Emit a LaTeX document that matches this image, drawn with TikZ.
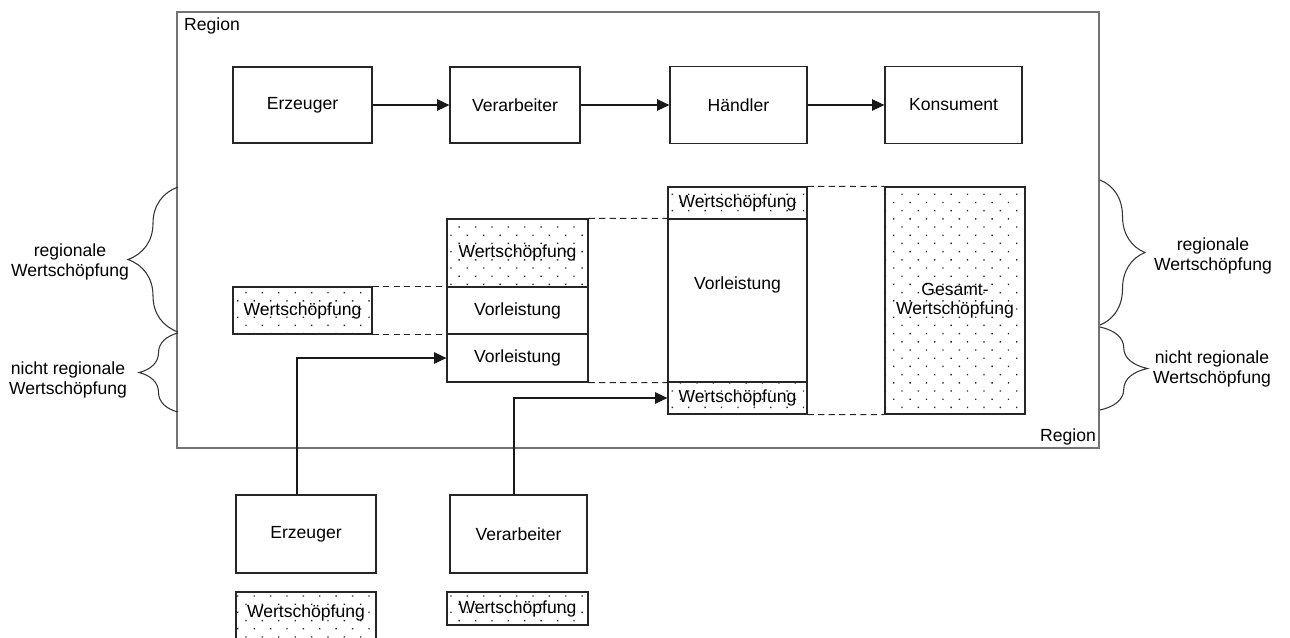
\documentclass[tikz,border=0pt]{standalone}
\usepackage{fontspec}
\setmainfont{Liberation Sans}
\usetikzlibrary{arrows.meta,patterns.meta,decorations.pathreplacing}
\begin{document}
\begin{tikzpicture}[x=0.02cm,y=-0.02cm,
  font=\fontsize{10}{11}\selectfont,
  frame/.style={draw=black!55,line width=1pt,inner sep=0pt},
  box/.style={draw=black!85,line width=0.7pt,inner sep=0pt,align=center},
  wert/.style={box,pattern={Dots[distance=6.6pt,angle=45,radius=0.55pt]},pattern color=black!85},
  arr/.style={-{Triangle[length=7pt,width=6.5pt]},line width=0.6pt,draw=black!90},
  verbind/.style={dashed,dash pattern=on 3.5pt off 2.5pt,line width=0.6pt,draw=black!85},
  klammer/.style={decorate,decoration={brace,amplitude=#1},line width=0.6pt,draw=black!80},
  lbl/.style={align=center}]
\useasboundingbox (0,0) rectangle (1290,637);
\node[frame,minimum width=18.44cm,minimum height=8.72cm] (region) at (638,230) {};
\node[] (rego) at (212,26) {Region};
\node[] (regu) at (1068,437) {Region};

\node[box,minimum width=2.78cm,minimum height=1.52cm] (erz) at (302.5,105) {Erzeuger};
\node[box,minimum width=2.6cm,minimum height=1.52cm] (ver) at (515,105) {Verarbeiter};
\node[box,minimum width=2.74cm,minimum height=1.54cm] (hae) at (738.5,105) {Händler};
\node[box,minimum width=2.74cm,minimum height=1.54cm] (kon) at (953.5,105) {Konsument};
\draw[arr] (erz) -- (ver);
\draw[arr] (ver) -- (hae);
\draw[arr] (hae) -- (kon);

\node[wert,minimum width=2.78cm,minimum height=0.94cm] (wsl) at (302.5,310.5) {Wertschöpfung};
\node[wert,minimum width=2.82cm,minimum height=1.36cm] (wsm) at (517.5,253) {Wertschöpfung};
\node[box,minimum width=2.82cm,minimum height=0.94cm] (vlm1) at (517.5,310.5) {Vorleistung};
\node[box,minimum width=2.82cm,minimum height=0.96cm] (vlm2) at (517.5,358) {Vorleistung};
\node[wert,minimum width=2.78cm,minimum height=0.64cm] (wsr1) at (737.5,203) {Wertschöpfung};
\node[box,minimum width=2.78cm,minimum height=3.26cm] (vlr) at (737.5,300.5) {};
\node[] (vlrt) at (737.5,285) {Vorleistung};
\node[wert,minimum width=2.78cm,minimum height=0.64cm] (wsr2) at (737.5,398) {Wertschöpfung};
\node[wert,minimum width=2.8cm,minimum height=4.54cm] (ges) at (955,300.5) {Gesamt-\\Wertschöpfung};

\draw[verbind] (wsl.north east) -- (vlm1.north west);
\draw[verbind] (wsl.south east) -- (vlm1.south west);
\draw[verbind] (wsm.north east) -- (vlr.north west);
\draw[verbind] (vlm2.south east) -- (vlr.south west);
\draw[verbind] (wsr1.north east) -- (ges.north west);
\draw[verbind] (wsr2.south east) -- (ges.south west);

\node[box,minimum width=2.8cm,minimum height=1.56cm] (erzb) at (306,534) {Erzeuger};
\node[box,minimum width=2.74cm,minimum height=1.56cm] (verb) at (518.5,534) {Verarbeiter};
\node[wert,minimum width=2.8cm,minimum height=1.4cm] (wsb1) at (306,627) {};
\node[] (wsb1t) at (306,613) {Wertschöpfung};
\node[wert,minimum width=2.82cm,minimum height=0.66cm] (wsb2) at (517.5,608.5) {Wertschöpfung};
\draw[arr] ([xshift=-0.18cm]erzb.north) |- (vlm2.west);
\draw[arr] ([xshift=-0.09cm]verb.north) |- (wsr2.west);

\draw[klammer=1cm] (178,332) -- (178,187);
\draw[klammer=0.78cm] (178,412) -- (178,333);
\draw[klammer=0.9cm] (1100,180) -- (1100,325);
\draw[klammer=0.95cm] (1100,327) -- (1100,410);
\node[lbl] (lo) at (70,262) {regionale\\Wertschöpfung};
\node[lbl] (lu) at (68,380) {nicht regionale\\Wertschöpfung};
\node[lbl] (ro) at (1213,256) {regionale\\Wertschöpfung};
\node[lbl] (ru) at (1212,369) {nicht regionale\\Wertschöpfung};
\end{tikzpicture}
\end{document}
